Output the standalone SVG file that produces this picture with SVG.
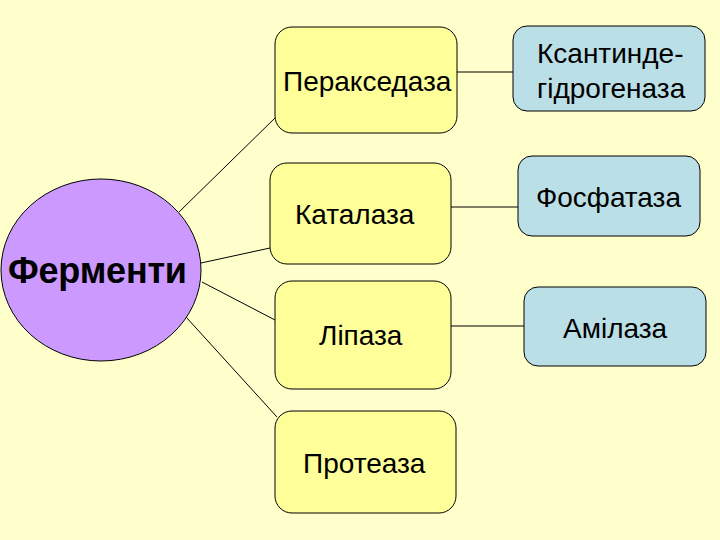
<svg xmlns="http://www.w3.org/2000/svg" width="720" height="540" viewBox="0 0 720 540">
<style>
.y{fill:#FFFF99;stroke:#000;stroke-width:1}
.b{fill:#BBDFE6;stroke:#000;stroke-width:1}
.t{font-family:"Liberation Sans",Arial,sans-serif;font-size:28px;fill:#000}
.c line{stroke:#000;stroke-width:1}
</style>
<rect width="720" height="540" fill="#FFFFCC"/>
<g class="c" id="connectors">
<line x1="179" y1="212" x2="276" y2="117"/>
<line x1="201" y1="263" x2="270" y2="248"/>
<line x1="202" y1="282" x2="275" y2="320"/>
<line x1="186" y1="317" x2="277" y2="417"/>
<line x1="457" y1="72" x2="513" y2="72"/>
<line x1="451" y1="207" x2="518" y2="207"/>
<line x1="451" y1="326" x2="524" y2="326"/>
</g>
<g id="fermenty">
<ellipse cx="101" cy="270" rx="100" ry="91" fill="#CC99FF" stroke="#000" stroke-width="1"/>
<text x="8" y="283" textLength="179" style="font-family:'Liberation Sans',Arial,sans-serif;font-size:36px;font-weight:bold">Ферменти</text>
</g>
<g id="peraksedaza">
<rect class="y" x="275" y="27" width="182" height="106" rx="17"/>
<text class="t" x="283" y="91">Перакседаза</text>
</g>
<g id="katalaza">
<rect class="y" x="270" y="163" width="181" height="101" rx="17"/>
<text class="t" x="295" y="224">Каталаза</text>
</g>
<g id="lipaza">
<rect class="y" x="275" y="281" width="176" height="108" rx="17"/>
<text class="t" x="319" y="345">Ліпаза</text>
</g>
<g id="proteaza">
<rect class="y" x="275" y="411" width="181" height="102" rx="17"/>
<text class="t" x="303" y="473">Протеаза</text>
</g>
<g id="ksantin">
<rect class="b" x="513" y="26" width="192" height="85" rx="14"/>
<text class="t" x="537" y="63">Ксантинде-</text>
<text class="t" x="537" y="98">гідрогеназа</text>
</g>
<g id="fosfataza">
<rect class="b" x="518" y="156" width="182" height="80" rx="14"/>
<text class="t" x="536" y="207">Фосфатаза</text>
</g>
<g id="amilaza">
<rect class="b" x="524" y="287" width="182" height="79" rx="14"/>
<text class="t" x="563" y="338">Амілаза</text>
</g>
</svg>
